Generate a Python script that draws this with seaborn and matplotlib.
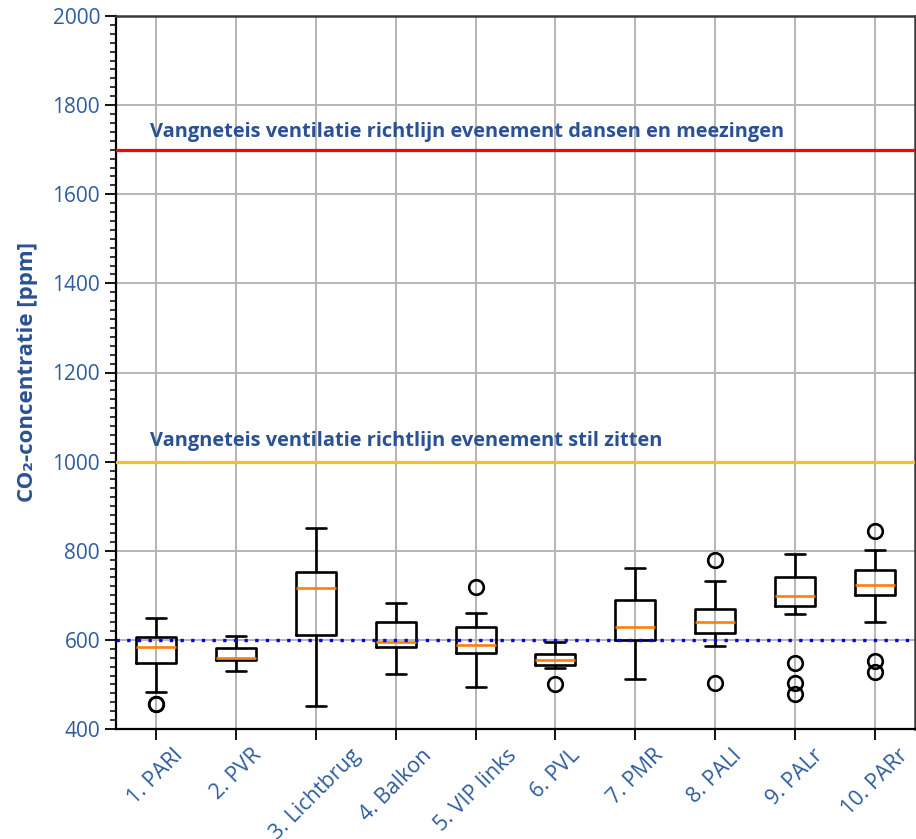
import numpy as np
import pandas as pd
import matplotlib
matplotlib.use("Agg")
import matplotlib.pyplot as plt
from matplotlib.ticker import MultipleLocator
import seaborn as sns

locations = ["1. PARl", "2. PVR", "3. Lichtbrug", "4. Balkon", "5. VIP links",
             "6. PVL", "7. PMR", "8. PALl", "9. PALr", "10. PARr"]

parl = [455, 457, 484, 547, 560, 575, 584, 592, 600, 606, 620, 638, 650]
pvr = [530, 540, 548, 555, 556, 558, 559, 565, 575, 582, 590, 600, 608]
lichtbrug = [451, 520, 580, 612, 650, 690, 717, 730, 745, 753, 790, 820, 850]
balkon = [524, 550, 570, 583, 588, 592, 595, 610, 625, 641, 655, 670, 682]
vip_links = [495, 530, 555, 571, 578, 584, 589, 600, 615, 629, 645, 660, 719]
pvl = [502, 538, 541, 544, 548, 551, 554, 558, 563, 568, 578, 588, 596]
pmr = [512, 550, 580, 600, 610, 620, 630, 650, 670, 689, 710, 735, 761]
pall = [504, 587, 600, 616, 625, 632, 640, 650, 660, 670, 700, 732, 779]
palr = [478, 504, 548, 658, 677, 683, 689, 694, 699, 710, 720, 730, 740, 755, 770, 782, 793]
parr = [529, 552, 641, 700, 708, 715, 723, 732, 745, 756, 780, 802, 844]

samples = [parl, pvr, lichtbrug, balkon, vip_links, pvl, pmr, pall, palr, parr]

limit_dance = 1700
limit_sit = 1000
outdoor_ref = 600
label_dance = "Vangneteis ventilatie richtlijn evenement dansen en meezingen"
label_sit = "Vangneteis ventilatie richtlijn evenement stil zitten"
y_label = "CO\u2082-concentratie [ppm]"

rows = []
for loc, vals in zip(locations, samples):
    for v in vals:
        rows.append((loc, v))
df = pd.DataFrame(rows, columns=["locatie", "co2"])
df["locatie"] = pd.Categorical(df["locatie"], categories=locations, ordered=True)

sns.set_style("white")
plt.rcParams["font.family"] = ["Open Sans", "DejaVu Sans"]

tick_blue = "#2E5C9E"
text_blue = "#2A5193"
lw = 1.9

fig = plt.figure(figsize=(9.16, 8.39), dpi=100)
ax = fig.add_axes([116 / 916, 1 - 729 / 839, (915 - 116) / 916, (729 - 16) / 839])

sns.boxplot(data=df, x="locatie", y="co2", ax=ax, width=0.5, fill=False,
            color="black", linewidth=lw, whis=1.5,
            medianprops=dict(color="#ff7f0e", linewidth=lw),
            whiskerprops=dict(color="black", linewidth=lw),
            capprops=dict(color="black", linewidth=lw),
            boxprops=dict(color="black", linewidth=lw),
            flierprops=dict(marker="o", markersize=10.5, markerfacecolor="none",
                            markeredgecolor="black", markeredgewidth=lw))

ax.set_axisbelow(True)
ax.grid(True, axis="both", which="major", color="#b5b5b5", linewidth=1.4, zorder=0)

ax.axhline(limit_dance, color="#ff0000", linewidth=2.3, zorder=3)
ax.axhline(limit_sit, color="#f5c02c", linewidth=2.3, zorder=3)
ax.axhline(outdoor_ref, color="#0000ff", linewidth=2.4, linestyle=(0, (1, 2.2)), zorder=4)

ax.text(-0.075, limit_dance + 40, label_dance, color=text_blue, fontsize=14.4,
        fontweight="bold", va="center", ha="left")
ax.text(-0.075, limit_sit + 46, label_sit, color=text_blue, fontsize=14.4,
        fontweight="bold", va="center", ha="left")

ax.set_ylim(400, 2000)
ax.set_xlim(-0.5, 9.5)
ax.yaxis.set_major_locator(MultipleLocator(200))
ax.yaxis.set_minor_locator(MultipleLocator(20))
ax.tick_params(axis="y", which="major", direction="out", length=8, width=1.3,
               color="black", labelcolor=tick_blue, labelsize=15, left=True)
ax.tick_params(axis="y", which="minor", direction="out", length=4, width=1.1,
               color="black", left=True)
ax.tick_params(axis="x", which="major", direction="out", length=8, width=1.3,
               color="black", labelcolor=tick_blue, labelsize=15.5, bottom=True)
ax.set_xticks(range(len(locations)))
ax.set_xticklabels(locations, rotation=45)

ax.set_xlabel("")
ax.set_ylabel(y_label, color=text_blue, fontsize=16, fontweight="bold",
              family=["Open Sans", "DejaVu Sans"], labelpad=10)

for side in ["left", "bottom"]:
    ax.spines[side].set_color("black")
    ax.spines[side].set_linewidth(1.6)
for side in ["top", "right"]:
    ax.spines[side].set_color("#3a3a3a")
    ax.spines[side].set_linewidth(1.8)

fig.savefig("out.png", dpi=100)
